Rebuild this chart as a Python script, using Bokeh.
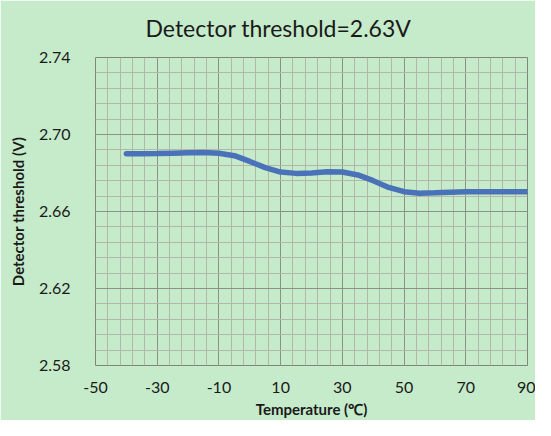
from bokeh.plotting import figure
from bokeh.models import FixedTicker, Range1d
from bokeh.embed import file_html
from bokeh.resources import INLINE

# Data
temperature = [-40, -35, -30, -25, -20, -15, -10, -5, 0, 5, 10, 15, 20, 25, 30,
               35, 40, 45, 50, 55, 60, 65, 70, 75, 80, 85, 90]
threshold = [2.6900, 2.6900, 2.6901, 2.6903, 2.6905, 2.6906, 2.6903, 2.6890, 2.6860,
             2.6828, 2.6805, 2.6798, 2.6800, 2.6806, 2.6805, 2.6790, 2.6760, 2.6725,
             2.6703, 2.6695, 2.6697, 2.6700, 2.6702, 2.6703, 2.6703, 2.6703, 2.6703]

x_ticks = [-50, -30, -10, 10, 30, 50, 70, 90]
x_tick_labels = ["-50", "-30", "-10", "10", "30", "50", "70", "90"]
y_ticks = [2.58, 2.62, 2.66, 2.70, 2.74]
y_tick_labels = ["2.58", "2.62", "2.66", "2.70", "2.74"]

title_text = "Detector threshold=2.63V"
x_label = "Temperature (℃)"
y_label = "Detector threshold (V)"

BG = "#C6EBCA"
FONT = "Lato"

x_min, x_max = x_ticks[0], x_ticks[-1]
y_min, y_max = y_ticks[0], y_ticks[-1]

p = figure(width=535, height=420, output_backend="svg", toolbar_location=None,
           x_range=Range1d(x_min, x_max), y_range=Range1d(y_min, y_max),
           min_border_left=95, min_border_right=8, min_border_top=56, min_border_bottom=53)

p.background_fill_color = BG
p.border_fill_color = BG
p.outline_line_color = "#7F8878"
p.outline_line_width = 1

p.title.text = title_text
p.title.align = "left"
p.title.offset = 50
p.title.standoff = 27
p.title.vertical_align = "top"
p.title.text_font = FONT
p.title.text_font_size = "23px"
p.title.text_font_style = "normal"
p.title.text_color = "#1a1a1a"

x_minor = [-50 + 4 * i for i in range(36)]
y_minor = [2.58 + 0.008 * i for i in range(21)]
p.xaxis.ticker = FixedTicker(ticks=x_ticks, minor_ticks=x_minor)
p.yaxis.ticker = FixedTicker(ticks=y_ticks, minor_ticks=y_minor)
p.xaxis.major_label_overrides = {t: l for t, l in zip(x_ticks, x_tick_labels)}
p.yaxis.major_label_overrides = {t: l for t, l in zip(y_ticks, y_tick_labels)}

for ax in (p.xaxis, p.yaxis):
    ax.axis_line_color = None
    ax.major_tick_line_color = None
    ax.minor_tick_line_color = None
    ax.major_label_text_font = FONT
    ax.major_label_text_font_size = "16px"
    ax.major_label_text_color = "#1a1a1a"
    ax.axis_label_text_font = FONT
    ax.axis_label_text_font_size = "15px"
    ax.axis_label_text_font_style = "bold"
    ax.axis_label_text_color = "#1a1a1a"

p.xaxis.axis_label = x_label
p.yaxis.axis_label = y_label
p.xaxis.major_label_standoff = 10
p.xaxis.axis_label_standoff = 4
p.yaxis.major_label_standoff = 19
p.yaxis.axis_label_standoff = 9

for g in (p.xgrid, p.ygrid):
    g.grid_line_color = "#8A9284"
    g.grid_line_width = 1
    g.minor_grid_line_color = "#B2B8A8"
    g.minor_grid_line_width = 1

p.line(temperature, threshold, line_color="#4A72B8", line_width=5.5, line_cap="round")

open("out.html", "w").write(file_html(p, INLINE))
